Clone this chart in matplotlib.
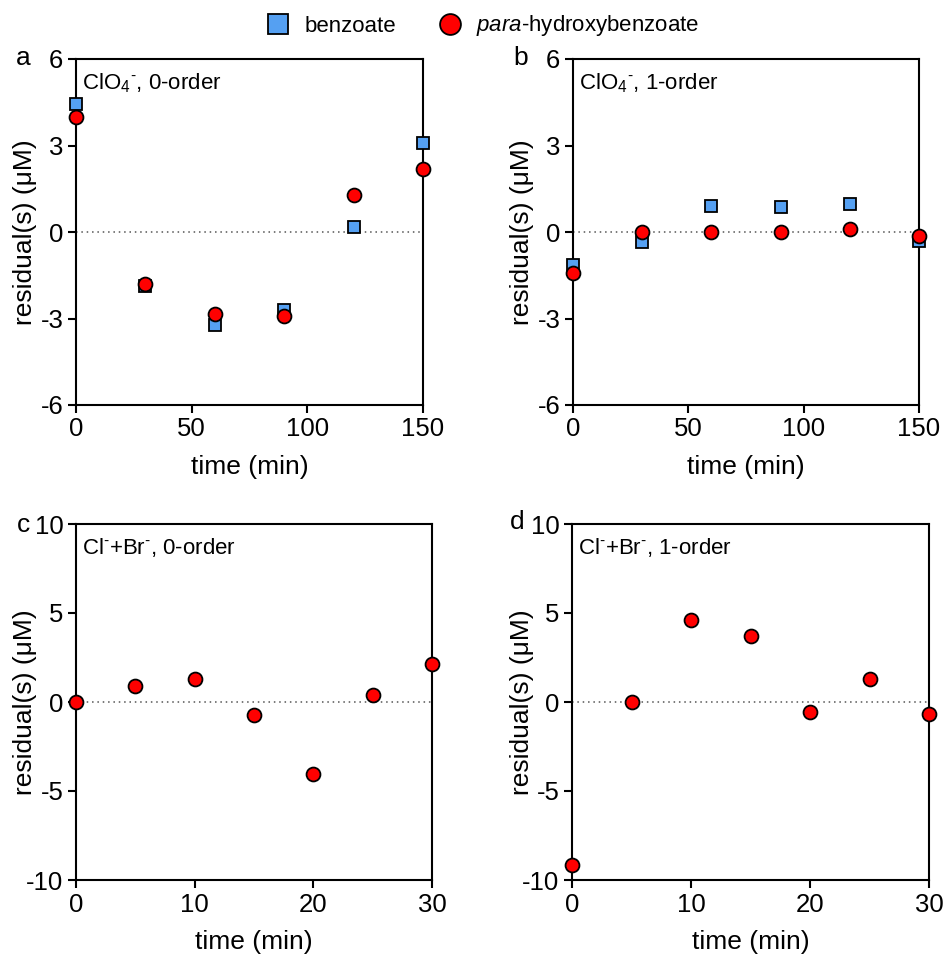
import matplotlib
matplotlib.use("Agg")
import matplotlib.pyplot as plt
from matplotlib.lines import Line2D

plt.rcParams['font.family'] = ['Liberation Sans', 'DejaVu Sans']
plt.rcParams['mathtext.fontset'] = 'custom'
plt.rcParams['mathtext.rm'] = 'Liberation Sans'
plt.rcParams['mathtext.it'] = 'Liberation Sans:italic'
plt.rcParams['axes.unicode_minus'] = False

# time points (min)
t_clo4 = [0, 30, 60, 90, 120, 150]
t_clbr = [0, 5, 10, 15, 20, 25, 30]

# residuals (uM)
a_benzoate = [4.44, -1.88, -3.24, -2.69, 0.16, 3.10]
a_phb = [4.00, -1.80, -2.86, -2.92, 1.29, 2.18]
b_benzoate = [-1.13, -0.35, 0.89, 0.85, 0.98, -0.30]
b_phb = [-1.42, -0.01, 0.01, 0.00, 0.11, -0.13]
c_phb = [0.00, 0.90, 1.31, -0.75, -4.05, 0.37, 2.11]
d_phb = [-9.14, 0.00, 4.58, 3.72, -0.58, 1.29, -0.67]

panel_letters = ['a', 'b', 'c', 'd']
panel_titles = [r'ClO$_4$$^{\text{-}}$, 0-order', r'ClO$_4$$^{\text{-}}$, 1-order',
                r'Cl$^{\text{-}}$+Br$^{\text{-}}$, 0-order', r'Cl$^{\text{-}}$+Br$^{\text{-}}$, 1-order']

blue = '#55A0F2'
red = '#FF0000'

fig = plt.figure(figsize=(9.45, 9.6), dpi=100)
W, H = 945, 960

def add_ax(l, r, t, b):
    return fig.add_axes([l / W, 1 - b / H, (r - l) / W, (b - t) / H])

boxes = [(76, 423, 59, 405), (573, 919, 59, 405), (76, 432, 524, 880), (572, 929, 524, 880)]
axes = [add_ax(*b) for b in boxes]

sq_kw = dict(marker='s', ms=9, mfc=blue, mec='black', mew=1.3, ls='none', clip_on=False, zorder=3)
ci_kw = dict(marker='o', ms=10, mfc=red, mec='black', mew=1.3, ls='none', clip_on=False, zorder=4)

for i, ax in enumerate(axes):
    l, r, t, b = boxes[i]
    if i < 2:
        ax.set_xlim(0, 150)
        ax.set_ylim(-6, 6)
        ax.set_xticks([0, 50, 100, 150])
        ax.set_yticks([-6, -3, 0, 3, 6])
    else:
        ax.set_xlim(0, 30)
        ax.set_ylim(-10, 10)
        ax.set_xticks([0, 10, 20, 30])
        ax.set_yticks([-10, -5, 0, 5, 10])
    ax.axhline(0, color='#555555', lw=1.1, ls=(0, (1, 2.5)), zorder=1)
    for s in ax.spines.values():
        s.set_linewidth(1.5)
    ax.tick_params(direction='out', length=6, width=1.5, labelsize=18.5)
    ax.tick_params(axis='x', pad=3)
    ax.tick_params(axis='y', pad=3)
    ax.set_xlabel('time (min)', fontsize=19)
    ax.set_ylabel('residual(s) (μM)', fontsize=19)
    ylab_x = 37 if i in (0, 2) else 534
    ax.yaxis.set_label_coords((ylab_x - l) / (r - l), 0.5)
    xlab_top = 455 if i < 2 else 930
    ax.xaxis.set_label_coords(0.5, (b - xlab_top) / (b - t))
    ax.text(0.018, 0.965, panel_titles[i], transform=ax.transAxes, fontsize=16,
            ha='left', va='top')

axes[0].plot(t_clo4, a_benzoate, **sq_kw)
axes[0].plot(t_clo4, a_phb, **ci_kw)
axes[1].plot(t_clo4, b_benzoate, **sq_kw)
axes[1].plot(t_clo4, b_phb, **ci_kw)
axes[2].plot(t_clbr, c_phb, **ci_kw)
axes[3].plot(t_clbr, d_phb, **ci_kw)

# panel letters
for letter, (x, y) in zip(panel_letters, [(23, 58), (521, 58), (23, 525), (517, 522)]):
    fig.text(x / W, 1 - y / H, letter, fontsize=19, ha='center', va='center')

# shared legend
leg_sq = dict(sq_kw, ms=14)
leg_ci = dict(ci_kw, ms=15)
for d in (leg_sq, leg_ci):
    d.pop('clip_on'); d.pop('zorder')
handles = [Line2D([], [], **leg_sq), Line2D([], [], **leg_ci)]
fig.legend(handles, ['benzoate', r'$\it{para}$-hydroxybenzoate'], loc='center',
           bbox_to_anchor=(482 / W, 1 - 26 / H), ncol=2, frameon=False, fontsize=16,
           handletextpad=0.6, columnspacing=1.8, handlelength=1.2)

fig.savefig('out.png', dpi=100)
